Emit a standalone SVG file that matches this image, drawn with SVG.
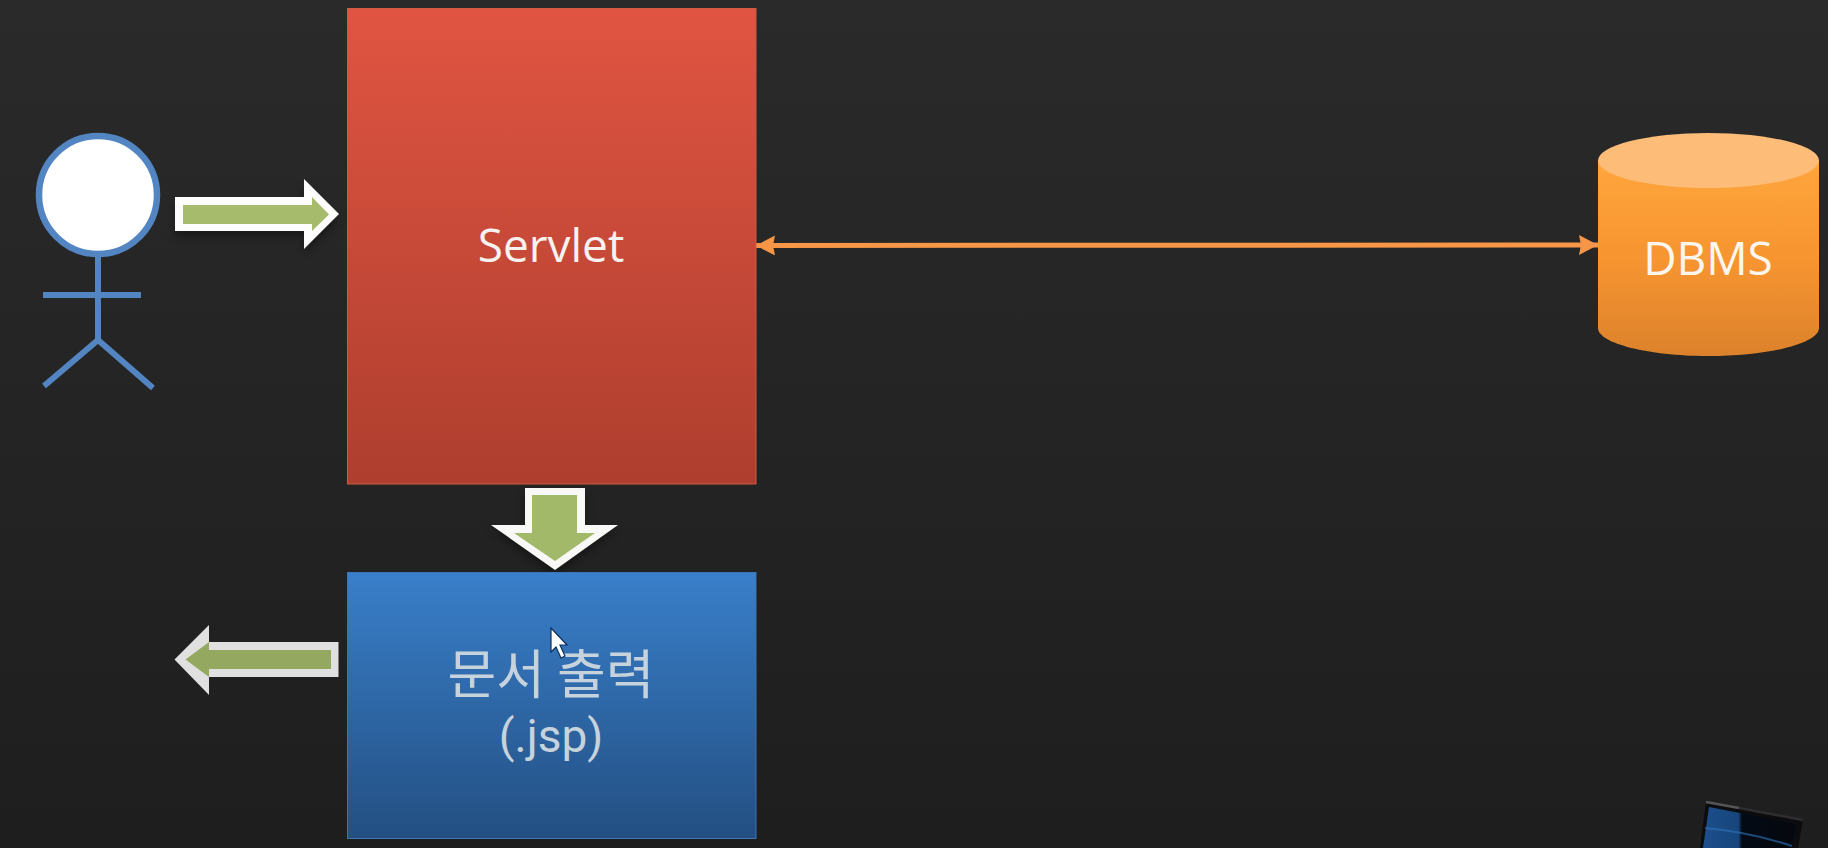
<svg xmlns="http://www.w3.org/2000/svg" width="1828" height="848" viewBox="0 0 1828 848">
<style>
.t{font-family:"Open Sans","Noto Sans","Noto Sans CJK KR",sans-serif;font-size:46px;text-anchor:middle}
.k{font-family:"Noto Sans CJK KR","Noto Sans",sans-serif;font-size:53px;font-weight:400;text-anchor:middle}
.j{font-family:Roboto,"Noto Sans",sans-serif;font-size:46px;text-anchor:middle}
.p{fill:none;stroke:#5285c1;stroke-width:6}
.o{stroke:#f79646;stroke-width:5;fill:none}
</style>
<defs>
<linearGradient id="bg" x1="0" y1="0" x2="0" y2="1"><stop offset="0" stop-color="#2a2a2a"/><stop offset="1" stop-color="#1e1e1e"/></linearGradient>
<linearGradient id="red" x1="0" y1="0" x2="0" y2="1"><stop offset="0" stop-color="#e05541"/><stop offset="0.25" stop-color="#d44f3d"/><stop offset="1" stop-color="#ae3e2e"/></linearGradient>
<linearGradient id="blue" x1="0" y1="0" x2="0" y2="1"><stop offset="0" stop-color="#397fca"/><stop offset="1" stop-color="#234f82"/></linearGradient>
<linearGradient id="org" x1="0" y1="0" x2="0" y2="1"><stop offset="0" stop-color="#ffa63d"/><stop offset="0.5" stop-color="#f79530"/><stop offset="1" stop-color="#dc822c"/></linearGradient>
<linearGradient id="mon" x1="0" y1="0" x2="1" y2="0"><stop offset="0" stop-color="#1d4f8c"/><stop offset="0.38" stop-color="#17457c"/><stop offset="0.42" stop-color="#030a14"/><stop offset="1" stop-color="#05080e"/></linearGradient>
<filter id="sh" x="-20%" y="-20%" width="140%" height="150%"><feGaussianBlur stdDeviation="4"/></filter>
<marker id="ah" viewBox="0 0 19 20" refX="19" refY="10" markerWidth="19" markerHeight="20" markerUnits="userSpaceOnUse" orient="auto-start-reverse"><path d="M0 0L19 10L0 20L2 10Z" fill="#f79646"/></marker>
</defs>
<rect width="1828" height="848" fill="url(#bg)"/>
<g id="connectors">
<path d="M175 197H304V179L339 214L304 249V231H175Z" fill="#000" opacity=".35" filter="url(#sh)" transform="translate(0 6)"/>
<path d="M175 197H304V179L339 214L304 249V231H175Z" fill="#fdfdfd"/>
<path d="M183 205H312V197L329 214.500L312 231V224H183Z" fill="#a6bb6b"/>
<path d="M525 488H585V525H618L555 570L491 525H525Z" fill="#000" opacity=".35" filter="url(#sh)" transform="translate(0 5)"/>
<path d="M525 488H585V525H618L555 570L491 525H525Z" fill="#f8f8f6"/>
<path d="M532 495H577V533H595L555 561L514 533H532Z" fill="#a3b96a"/>
<path d="M338.500 642H209V625L174.500 659.500L209 695V677H338.500Z" fill="#e0e0e0"/>
<path d="M331 650H209V642L185.500 659.500L209 677V669H331Z" fill="#95a85f"/>
<path d="M756 245.500L1598 245" class="o" marker-start="url(#ah)" marker-end="url(#ah)"/>
</g>
<g id="user">
<circle cx="98" cy="195" r="59" fill="#fff" stroke="#5285c1" stroke-width="6.500"/>
<path d="M98 256V340M43 295H141M44 386L98 340L153 388" class="p"/>
</g>
<g id="servlet">
<rect x="347.500" y="8.500" width="408.500" height="475.500" fill="url(#red)" stroke="#cf5a45" stroke-width="1"/>
<text x="551" y="262" class="t" fill="#f6f2f0">Servlet</text>
</g>
<g id="jsp">
<rect x="347.500" y="572.500" width="408.500" height="266" fill="url(#blue)" stroke="#3b75b5" stroke-width="1"/>
<text x="551" y="694" class="k" fill="#c6d2dc">문서 출력</text>
<text x="551" y="752" class="j" fill="#c6d2dc">(.jsp)</text>
<path d="M551 628V652L556 647L561 658L565 656L560 645L567 645Z" fill="#fff" stroke="#0c2f5c" stroke-width="1.200"/>
</g>
<g id="dbms">
<path d="M1598 160V328C1598 343 1647 356 1708 356C1770 356 1819 343 1819 328V160Z" fill="url(#org)"/>
<ellipse cx="1708.500" cy="160.500" rx="110.500" ry="27.500" fill="#fdbc78"/>
<text x="1708" y="275" class="t" fill="#fdf6ee">DBMS</text>
</g>
<g id="monitor">
<path d="M1706 802L1803 820L1798 848H1700Z" fill="#0c0c0e"/>
<path d="M1706 802L1739 808" stroke="#555557" stroke-width="2.500" fill="none"/>
<path d="M1739 808L1803 820" stroke="#2e2e30" stroke-width="2.500" fill="none"/>
<path d="M1709 807L1796 824L1792 848H1703Z" fill="url(#mon)"/>
<path d="M1705 828Q1750 832 1792 846" fill="none" stroke="#2f74bd" stroke-width="2" opacity=".6"/>
</g>
</svg>
